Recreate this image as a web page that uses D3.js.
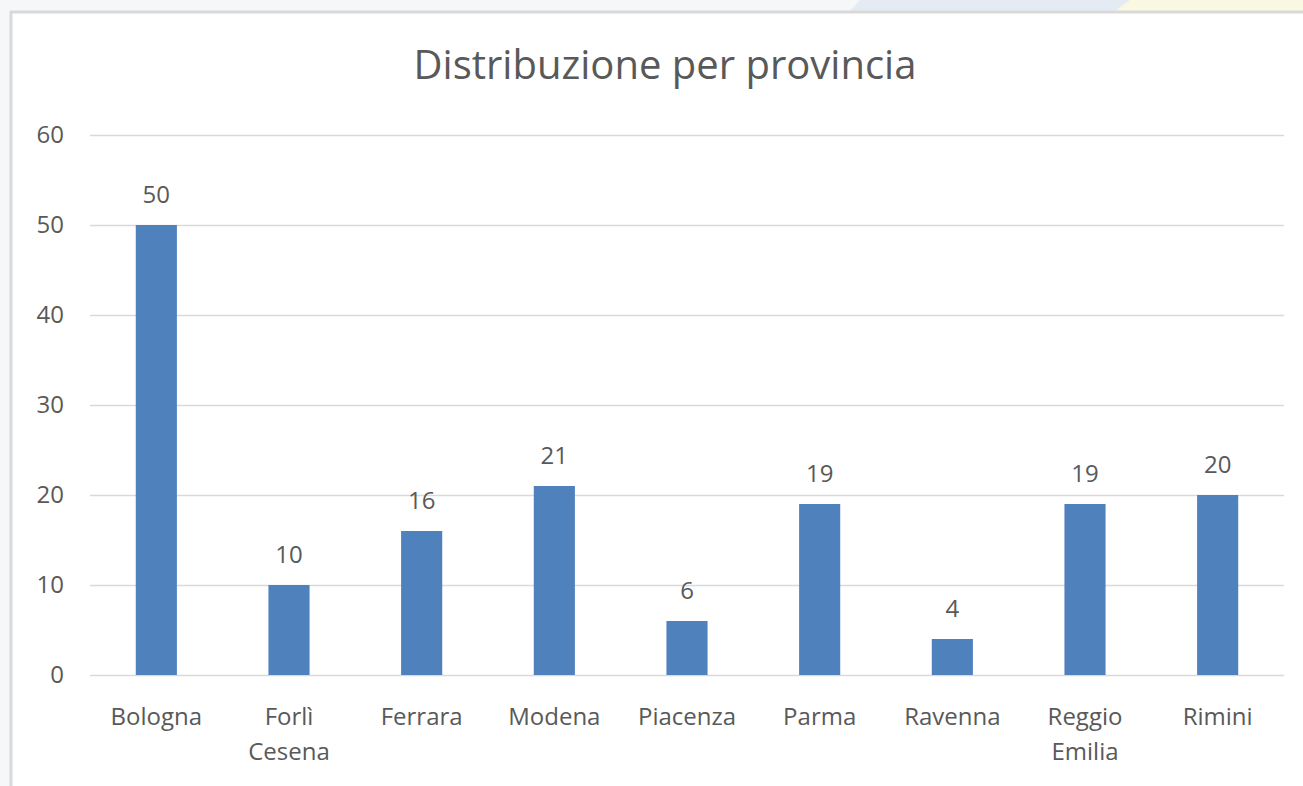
<!DOCTYPE html>
<html>
<head>
<meta charset="utf-8">
<script src="https://cdn.jsdelivr.net/npm/d3@7"></script>
<style>
  body { margin: 0; background: #f7f8fa; }
  svg { display: block; }
  text { font-family: "Open Sans", "Noto Sans", sans-serif; fill: #595959; }
</style>
</head>
<body>
<svg></svg>
<script>
let provinces = ['Bologna', 'Forlì\nCesena', 'Ferrara', 'Modena', 'Piacenza', 'Parma', 'Ravenna', 'Reggio\nEmilia', 'Rimini'];
let counts = [50, 10, 16, 21, 6, 19, 4, 19, 20];
let yTicks = [0, 10, 20, 30, 40, 50, 60];
let title = 'Distribuzione per provincia';

let width = 1303, height = 786;
let svg = d3.select('svg').attr('width', width).attr('height', height);

// backdrop behind the chart frame (screenshot look)
let bg = svg.append('g');
bg.append('rect').attr('width', width).attr('height', height).attr('fill', '#f6f7f9');
bg.append('path').attr('d', 'M860,0 L1303,0 L1303,11 L850,11 Z').attr('fill', '#e4ebf3');
bg.append('path').attr('d', 'M1130,0 L1303,0 L1303,11 L1115,11 Z').attr('fill', '#fbf8e2');

// chart frame
svg.append('rect')
    .attr('x', 11).attr('y', 12)
    .attr('width', width).attr('height', height)
    .attr('fill', '#ffffff')
    .attr('stroke', '#d9d9d9')
    .attr('stroke-width', 3);

let margin = {left: 90, right: 19, top: 135, bottom: 111};

let x = d3.scaleBand()
    .domain(provinces)
    .range([margin.left, width - margin.right])
    .paddingInner(0.69)
    .paddingOuter(0.345);

let y = d3.scaleLinear()
    .domain([0, 60])
    .range([height - margin.bottom, margin.top]);

svg.append('text')
    .attr('x', 665).attr('y', 79)
    .attr('text-anchor', 'middle')
    .style('font-size', '40px')
    .text(title);

// gridlines
let grid = svg.append('g')
    .attr('transform', `translate(${margin.left},0)`)
    .call(d3.axisLeft(y).tickValues(yTicks).tickSize(-(width - margin.left - margin.right)).tickFormat(''));
grid.select('.domain').remove();
grid.selectAll('line').attr('stroke', '#d9d9d9').attr('stroke-width', 1.5);

// y labels
let yAxis = svg.append('g')
    .attr('transform', `translate(${margin.left},0)`)
    .call(d3.axisLeft(y).tickValues(yTicks).tickSize(0).tickPadding(26));
yAxis.select('.domain').remove();
yAxis.selectAll('text').style('font-size', '24px').attr('fill', '#595959');

// bars
svg.append('g').selectAll('rect')
    .data(counts)
    .join('rect')
    .attr('x', (d, i) => x(provinces[i]))
    .attr('y', d => y(d))
    .attr('width', x.bandwidth())
    .attr('height', d => y(0) - y(d))
    .attr('fill', '#4f81bd');

// data labels
svg.append('g').selectAll('text')
    .data(counts)
    .join('text')
    .attr('x', (d, i) => x(provinces[i]) + x.bandwidth() / 2)
    .attr('y', d => y(d) - 22)
    .attr('text-anchor', 'middle')
    .style('font-size', '24px')
    .attr('fill', '#404040')
    .text(d => d);

// category labels
let xAxis = svg.append('g')
    .attr('transform', `translate(0,${y(0)})`)
    .call(d3.axisBottom(x).tickSize(0).tickFormat(''));
xAxis.select('.domain').remove();
xAxis.selectAll('.tick').each(function(d) {
    let t = d3.select(this).append('text')
        .attr('text-anchor', 'middle')
        .style('font-size', '24px')
        .attr('fill', '#595959');
    d.split('\n').forEach((line, i) => {
        t.append('tspan').attr('x', 0).attr('y', 50 + i * 35).text(line);
    });
});
</script>
</body>
</html>
